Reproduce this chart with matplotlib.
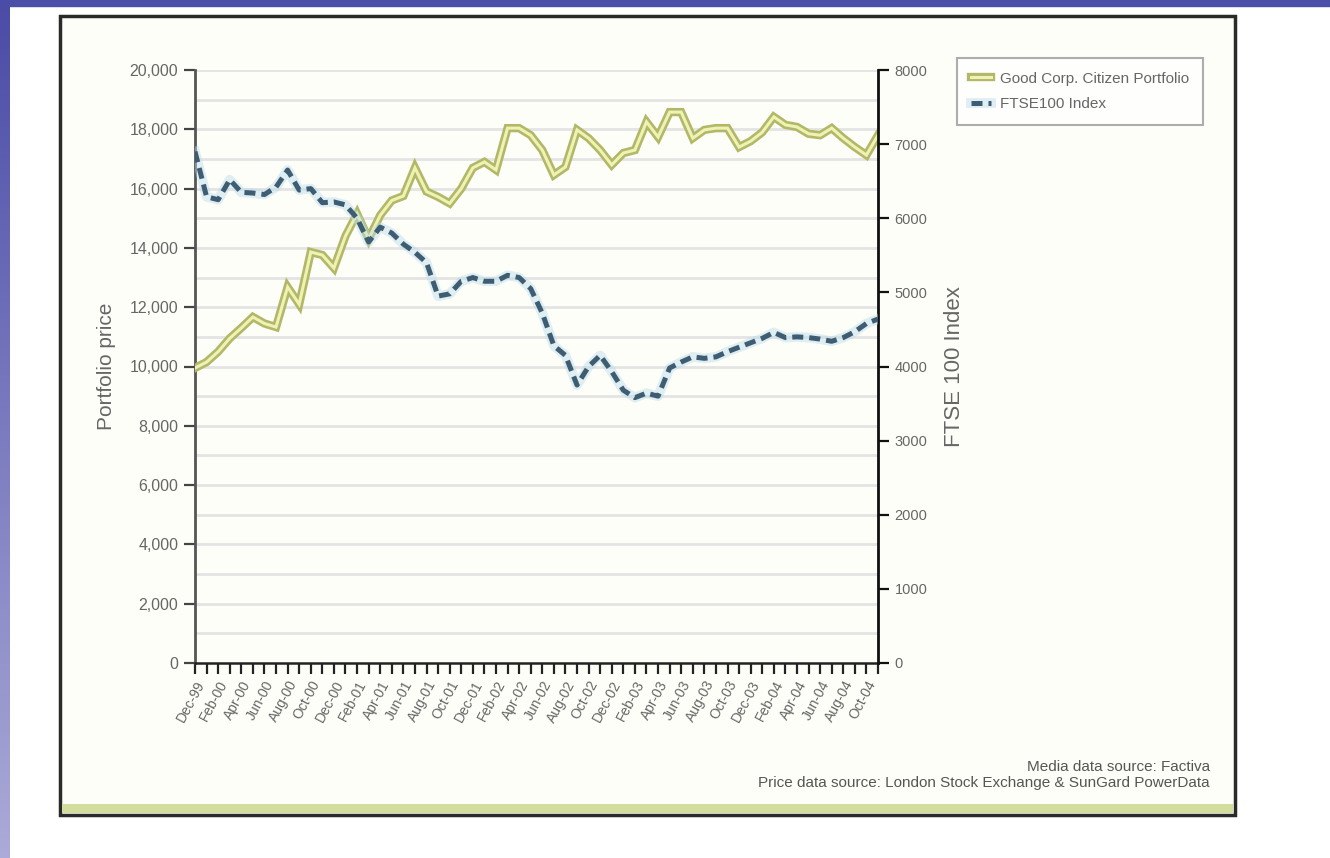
import numpy as np
import matplotlib
matplotlib.use('Agg')
import matplotlib.pyplot as plt
from matplotlib.patches import Rectangle
from matplotlib.legend_handler import HandlerTuple
from matplotlib.ticker import FuncFormatter, MultipleLocator

plt.rcParams['font.family'] = ['Liberation Sans', 'DejaVu Sans']

months = ['Dec-99', 'Jan-00', 'Feb-00', 'Mar-00', 'Apr-00', 'May-00', 'Jun-00', 'Jul-00',
          'Aug-00', 'Sep-00', 'Oct-00', 'Nov-00', 'Dec-00', 'Jan-01', 'Feb-01', 'Mar-01',
          'Apr-01', 'May-01', 'Jun-01', 'Jul-01', 'Aug-01', 'Sep-01', 'Oct-01', 'Nov-01',
          'Dec-01', 'Jan-02', 'Feb-02', 'Mar-02', 'Apr-02', 'May-02', 'Jun-02', 'Jul-02',
          'Aug-02', 'Sep-02', 'Oct-02', 'Nov-02', 'Dec-02', 'Jan-03', 'Feb-03', 'Mar-03',
          'Apr-03', 'May-03', 'Jun-03', 'Jul-03', 'Aug-03', 'Sep-03', 'Oct-03', 'Nov-03',
          'Dec-03', 'Jan-04', 'Feb-04', 'Mar-04', 'Apr-04', 'May-04', 'Jun-04', 'Jul-04',
          'Aug-04', 'Sep-04', 'Oct-04', 'Nov-04']

portfolio = [9950, 10150, 10500, 10950, 11300, 11670, 11450, 11330, 12680, 12100,
             13860, 13760, 13320, 14400, 15150, 14300, 15100, 15600, 15750, 16700,
             15900, 15720, 15500, 16000, 16700, 16900, 16630, 18040, 18040, 17800,
             17300, 16460, 16730, 17980, 17700, 17300, 16800, 17200, 17300, 18250,
             17740, 18580, 18580, 17700, 17980, 18040, 18040, 17400, 17600, 17900,
             18420, 18150, 18080, 17850, 17800, 18040, 17700, 17400, 17130, 17800]

ftse = [6900, 6290, 6250, 6520, 6350, 6340, 6320, 6420, 6650, 6380,
        6400, 6210, 6220, 6180, 6000, 5680, 5880, 5800, 5650, 5540,
        5400, 4950, 4980, 5150, 5200, 5150, 5150, 5230, 5200, 5050,
        4720, 4280, 4150, 3750, 4000, 4150, 3930, 3680, 3580, 3640,
        3600, 3980, 4060, 4130, 4110, 4130, 4200, 4260, 4320, 4380,
        4460, 4390, 4400, 4390, 4370, 4340, 4390, 4470, 4580, 4640]

W, H = 1330, 858
fig = plt.figure(figsize=(W / 100, H / 100), dpi=100)
fig.patch.set_facecolor('white')

# slide decoration: gradient strip on the left, band on top
strip = fig.add_axes([0, 0, 10 / W, 1])
grad = np.linspace(0, 1, 256)[:, None]
strip.imshow(grad, aspect='auto', extent=[0, 1, 0, 1],
             cmap=matplotlib.colors.LinearSegmentedColormap.from_list('s', ['#4a4ca6', '#abaad8']))
strip.axis('off')
fig.patches.append(Rectangle((0, 1 - 6 / H), 1, 6 / H, transform=fig.transFigure,
                             color='#4c4fa8', zorder=-1))

# framed panel
px0, py0, px1, py1 = 60, 16, 1235, 815
fig.patches.append(Rectangle((px0 / W, 1 - py1 / H), (px1 - px0) / W, (py1 - py0) / H,
                             transform=fig.transFigure, facecolor='#fefef9',
                             edgecolor='#2a2a2a', lw=2.5, zorder=-2))
fig.patches.append(Rectangle(((px0 + 2) / W, 1 - (py1 - 2) / H), (px1 - px0 - 4) / W, 9 / H,
                             transform=fig.transFigure, facecolor='#d3dd9c',
                             edgecolor='none', zorder=-1))

ax = fig.add_axes([195 / W, 1 - 663 / H, (878 - 195) / W, (663 - 70) / H])
ax.set_facecolor('none')
ax2 = ax.twinx()

x = np.arange(len(months))

ax.set_xlim(0, len(months) - 1)
ax.set_ylim(0, 20000)
ax2.set_ylim(0, 8000)

ax.yaxis.set_major_locator(MultipleLocator(2000))
ax.yaxis.set_minor_locator(MultipleLocator(1000))
ax.yaxis.set_major_formatter(FuncFormatter(lambda v, p: f'{int(v):,}'))
ax2.yaxis.set_major_locator(MultipleLocator(1000))
ax2.yaxis.set_major_formatter(FuncFormatter(lambda v, p: f'{int(v)}'))

for g in np.arange(1000, 20001, 1000):
    ax.axhline(g, color='#e4e4e4', lw=2, zorder=0)

# portfolio: double olive line
p_out, = ax.plot(x, portfolio, color='#b3b869', lw=6, solid_joinstyle='miter', zorder=3)
p_in, = ax.plot(x, portfolio, color='#eef3b4', lw=2.2, solid_joinstyle='miter', zorder=4)

# FTSE: dashed slate line with a pale halo
f_halo, = ax2.plot(x, ftse, color='#b7dcea', lw=7, alpha=0.45, zorder=3)
f_dash, = ax2.plot(x, ftse, color='#3f5d72', lw=3.6, dashes=(2.2, 1.2), zorder=4)

ax.set_xticks(x[::2])
ax.set_xticklabels(months[::2], rotation=62, ha='right', rotation_mode='anchor',
                   fontsize=10, color='#666666')
ax.set_xticks(x, minor=True)
ax.tick_params(axis='x', which='both', length=8, width=1.6, color='#222222', pad=3)
ax.tick_params(axis='y', which='major', length=8, width=1.6, color='#444444',
               labelsize=11.5, labelcolor='#666666', pad=4)
ax.tick_params(axis='y', which='minor', length=0)
ax2.tick_params(axis='y', length=8, width=1.6, color='#111111',
                labelsize=10.5, labelcolor='#666666', pad=4)

for a in (ax, ax2):
    a.spines['top'].set_visible(False)
ax.spines['left'].set_color('#555555')
ax.spines['left'].set_linewidth(2)
ax.spines['bottom'].set_color('#222222')
ax.spines['bottom'].set_linewidth(1.8)
ax2.spines['right'].set_color('#111111')
ax2.spines['right'].set_linewidth(2)
ax2.spines['left'].set_visible(False)
ax2.spines['bottom'].set_visible(False)

ax.set_ylabel('Portfolio price', fontsize=15, color='#666666', labelpad=10)
ax2.set_ylabel('FTSE 100 Index', fontsize=16, color='#666666', labelpad=12)

leg = fig.legend([(p_out, p_in), (f_halo, f_dash)],
                 ['Good Corp. Citizen Portfolio', 'FTSE100 Index'],
                 handler_map={tuple: HandlerTuple(ndivide=1)},
                 loc='upper left', bbox_to_anchor=(957 / W, 1 - 58 / H), borderaxespad=0,
                 fontsize=11, labelcolor='#666666', frameon=True, fancybox=False,
                 handlelength=1.3, handletextpad=0.6, borderpad=0.9, labelspacing=0.75)
leg.get_frame().set_edgecolor('#999999')
leg.get_frame().set_linewidth(1.5)

fig.text(1210 / W, 1 - 767 / H, 'Media data source: Factiva', ha='right', va='center',
         fontsize=11, color='#555555')
fig.text(1210 / W, 1 - 783 / H, 'Price data source: London Stock Exchange & SunGard PowerData',
         ha='right', va='center', fontsize=11, color='#555555')

fig.savefig('out.png', dpi=100)
